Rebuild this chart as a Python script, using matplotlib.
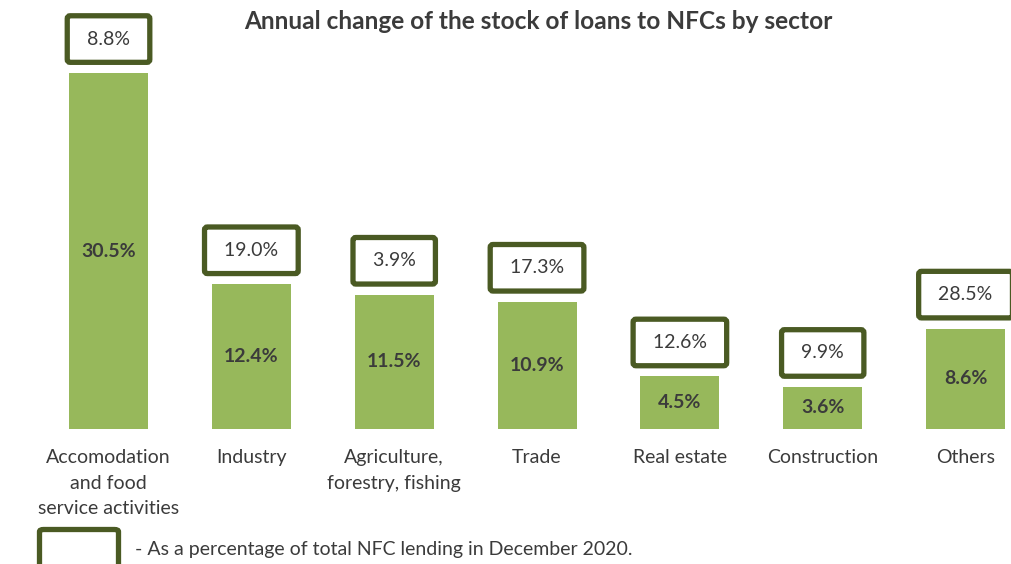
import matplotlib.pyplot as plt
from matplotlib.patches import FancyBboxPatch

plt.rcParams['font.family'] = ['Lato', 'DejaVu Sans']

# Sectors, annual change of loans and share of total NFC lending (Dec 2020)
sectors = ['Accomodation\nand food\nservice activities', 'Industry',
           'Agriculture,\nforestry, fishing', 'Trade', 'Real estate',
           'Construction', 'Others']
annual_change = [30.5, 12.4, 11.5, 10.9, 4.5, 3.6, 8.6]
lending_share = [8.8, 19.0, 3.9, 17.3, 12.6, 9.9, 28.5]

BAR_COLOR = '#97b85b'
BOX_EDGE = '#4a5a23'
TEXT_COLOR = '#3b3b3b'
FS = 14

fig = plt.figure(figsize=(10.11, 5.64), dpi=100)
ax = fig.add_axes([0.0367, 0.2394, 0.989, 0.7606])
ax.set_xlim(-0.5, 6.5)
ax.set_ylim(0, 36.76)
ax.axis('off')

x = range(len(sectors))
ax.bar(x, annual_change, width=0.553, color=BAR_COLOR, zorder=2)

for i, (chg, share) in enumerate(zip(annual_change, lending_share)):
    # bold value in the middle of each bar
    ax.text(i, chg / 2, f'{chg:.1f}%', ha='center', va='center',
            fontsize=FS, fontweight='bold', color=TEXT_COLOR, zorder=3)
    # framed share label above the bar
    ax.annotate(f' {share:.1f}% ', xy=(i, chg), xytext=(0, 34),
                textcoords='offset pixels', ha='center', va='center',
                fontsize=FS, color=TEXT_COLOR, annotation_clip=False,
                bbox=dict(boxstyle='round,pad=0.76,rounding_size=0.15',
                          facecolor='white', edgecolor=BOX_EDGE,
                          linewidth=3.8))
    # category name under the bar
    ax.annotate(sectors[i], xy=(i, 0), xytext=(0, -20),
                textcoords='offset pixels', ha='center', va='top',
                fontsize=FS, color=TEXT_COLOR, linespacing=1.62,
                annotation_clip=False)

fig.text(0.532, 0.961, 'Annual change of the stock of loans to NFCs by sector',
         ha='center', va='center', fontsize=17.6, fontweight='bold',
         color=TEXT_COLOR)

# legend key: an empty framed box, running off the bottom edge
key = FancyBboxPatch((39.5 / 1011, -0.1), 79 / 1011, 0.1 + 1 - 529.5 / 564,
                     boxstyle='round,pad=0,rounding_size=0.004',
                     transform=fig.transFigure, facecolor='white',
                     edgecolor=BOX_EDGE, linewidth=3.8, clip_on=False)
fig.add_artist(key)
fig.text(135 / 1011, 1 - 549 / 564,
         '- As a percentage of total NFC lending in December 2020.',
         ha='left', va='center', fontsize=14, color=TEXT_COLOR)

fig.savefig('out.png', dpi=100, facecolor='white')
